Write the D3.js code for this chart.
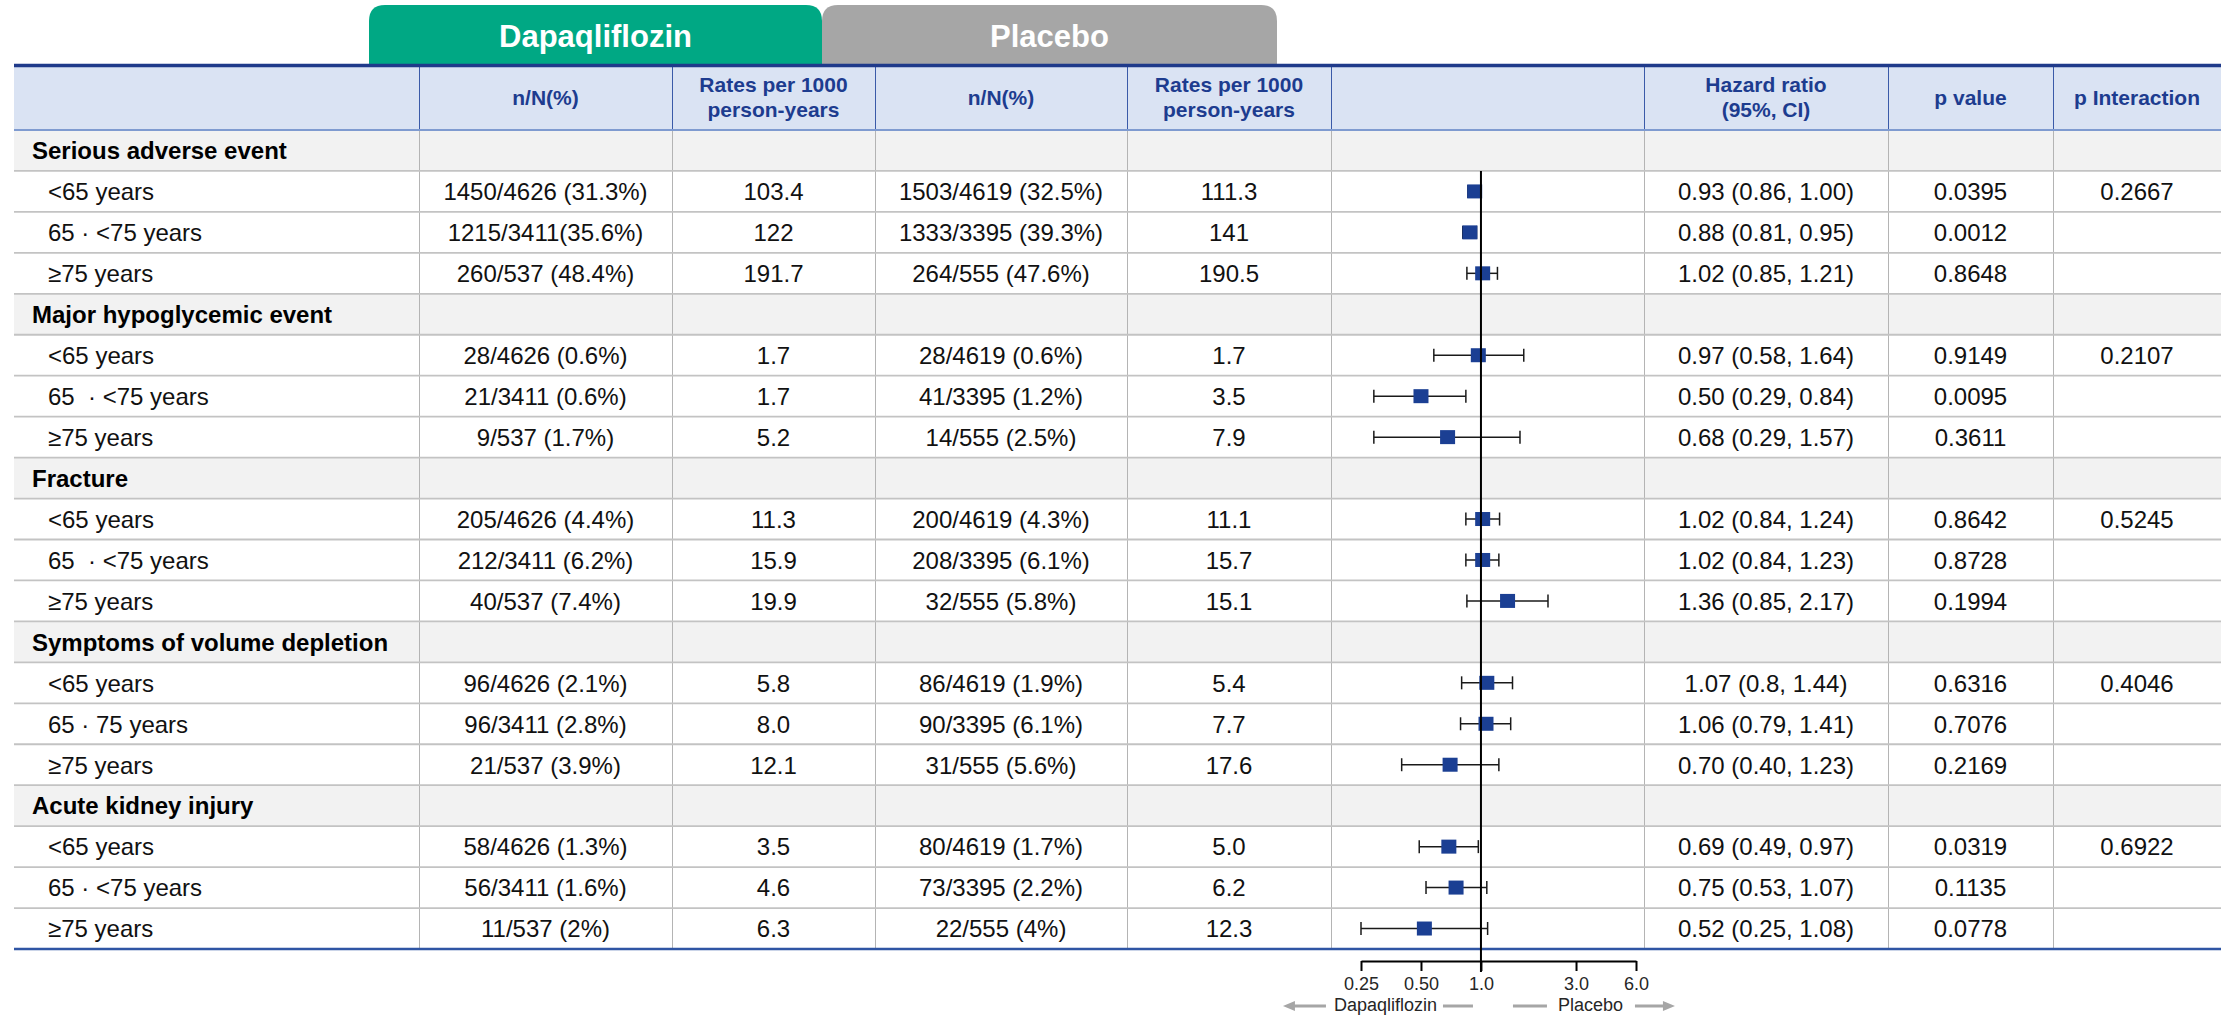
<!DOCTYPE html>
<html>
<head>
<meta charset="utf-8">
<script src="https://cdn.jsdelivr.net/npm/d3@7"></script>
<style>
  html, body { margin: 0; padding: 0; background: #ffffff; }
  svg { display: block; font-family: "Liberation Sans", Arial, Helvetica, sans-serif; }
  text { white-space: pre; }
</style>
</head>
<body>
<svg id="chart" width="2228" height="1016"></svg>
<script>
// ---- Data -------------------------------------------------------------
const armLabels = ["Dapaqliflozin", "Placebo"];

const columnHeaders = [
  [],
  ["n/N(%)"],
  ["Rates per 1000", "person-years"],
  ["n/N(%)"],
  ["Rates per 1000", "person-years"],
  [],
  ["Hazard ratio", "(95%, CI)"],
  ["p value"],
  ["p Interaction"]
];

const eventGroups = [
  "Serious adverse event",
  "Major hypoglycemic event",
  "Fracture",
  "Symptoms of volume depletion",
  "Acute kidney injury"
];

const ageLabels = [
  "<65 years", "65 · <75 years", "≥75 years",
  "<65 years", "65  · <75 years", "≥75 years",
  "<65 years", "65  · <75 years", "≥75 years",
  "<65 years", "65 · 75 years", "≥75 years",
  "<65 years", "65 · <75 years", "≥75 years"
];

const dapaEvents = [
  "1450/4626 (31.3%)", "1215/3411(35.6%)", "260/537 (48.4%)",
  "28/4626 (0.6%)", "21/3411 (0.6%)", "9/537 (1.7%)",
  "205/4626 (4.4%)", "212/3411 (6.2%)", "40/537 (7.4%)",
  "96/4626 (2.1%)", "96/3411 (2.8%)", "21/537 (3.9%)",
  "58/4626 (1.3%)", "56/3411 (1.6%)", "11/537 (2%)"
];
const dapaRates = [
  "103.4", "122", "191.7",
  "1.7", "1.7", "5.2",
  "11.3", "15.9", "19.9",
  "5.8", "8.0", "12.1",
  "3.5", "4.6", "6.3"
];
const placEvents = [
  "1503/4619 (32.5%)", "1333/3395 (39.3%)", "264/555 (47.6%)",
  "28/4619 (0.6%)", "41/3395 (1.2%)", "14/555 (2.5%)",
  "200/4619 (4.3%)", "208/3395 (6.1%)", "32/555 (5.8%)",
  "86/4619 (1.9%)", "90/3395 (6.1%)", "31/555 (5.6%)",
  "80/4619 (1.7%)", "73/3395 (2.2%)", "22/555 (4%)"
];
const placRates = [
  "111.3", "141", "190.5",
  "1.7", "3.5", "7.9",
  "11.1", "15.7", "15.1",
  "5.4", "7.7", "17.6",
  "5.0", "6.2", "12.3"
];

const hrEstimate = ["0.93", "0.88", "1.02", "0.97", "0.50", "0.68", "1.02", "1.02", "1.36", "1.07", "1.06", "0.70", "0.69", "0.75", "0.52"];
const hrLower    = ["0.86", "0.81", "0.85", "0.58", "0.29", "0.29", "0.84", "0.84", "0.85", "0.8",  "0.79", "0.40", "0.49", "0.53", "0.25"];
const hrUpper    = ["1.00", "0.95", "1.21", "1.64", "0.84", "1.57", "1.24", "1.23", "2.17", "1.44", "1.41", "1.23", "0.97", "1.07", "1.08"];

const pValues = [
  "0.0395", "0.0012", "0.8648",
  "0.9149", "0.0095", "0.3611",
  "0.8642", "0.8728", "0.1994",
  "0.6316", "0.7076", "0.2169",
  "0.0319", "0.1135", "0.0778"
];
const pInteraction = ["0.2667", "0.2107", "0.5245", "0.4046", "0.6922"];

const tickValues = [0.25, 0.5, 1, 3, 6];
const tickLabels = ["0.25", "0.50", "1.0", "3.0", "6.0"];

// ---- Layout -----------------------------------------------------------
const svg = d3.select("#chart");
const tableLeft = 14, tableRight = 2221;
const colEdges = [14, 419, 672, 875, 1127, 1331, 1644, 1888, 2053, 2221];
const headTop = 65, headBottom = 130;
const rowH = 40.95;
const groupSize = 3;

const textColor = "#111111";
const headColor = "#1d3c8f";

// Table rows: each event group gets a header row, then its age subgroups
const rows = [];
eventGroups.forEach((g, gi) => {
  rows.push({ type: "group", label: g });
  for (let k = 0; k < groupSize; k++) {
    const i = gi * groupSize + k;
    rows.push({
      type: "data", i, label: ageLabels[i],
      cells: [dapaEvents[i], dapaRates[i], placEvents[i], placRates[i]],
      est: hrEstimate[i], lo: hrLower[i], hi: hrUpper[i],
      p: pValues[i], pInt: k === 0 ? pInteraction[gi] : ""
    });
  }
});
const rowTop = r => headBottom + r * rowH;
const tableBottom = rowTop(rows.length);

// ---- Arm tabs ----------------------------------------------------------
function tabPath(x0, x1, y0, y1, r) {
  return `M${x0},${y1} V${y0 + r} Q${x0},${y0} ${x0 + r},${y0} H${x1 - r} Q${x1},${y0} ${x1},${y0 + r} V${y1} Z`;
}
const tabs = [
  { x0: 822, x1: 1277, fill: "#a6a6a6", label: armLabels[1] },
  { x0: 369, x1: 822, fill: "#00a884", label: armLabels[0] }
];
const tabG = svg.append("g");
tabG.selectAll("path").data(tabs).join("path")
  .attr("d", d => tabPath(d.x0, d.x1, 5, headTop, 16))
  .attr("fill", d => d.fill);
tabG.selectAll("text").data(tabs).join("text")
  .attr("x", d => (d.x0 + d.x1) / 2)
  .attr("y", 47)
  .attr("text-anchor", "middle")
  .attr("font-size", 31)
  .attr("font-weight", "bold")
  .attr("fill", "#ffffff")
  .text(d => d.label);

// ---- Header row ----------------------------------------------------------
svg.append("rect")
  .attr("x", tableLeft).attr("y", headTop)
  .attr("width", tableRight - tableLeft).attr("height", headBottom - headTop)
  .attr("fill", "#dae3f3");

const headG = svg.append("g");
columnHeaders.forEach((lines, c) => {
  const cx = (colEdges[c] + colEdges[c + 1]) / 2;
  const ys = lines.length === 2 ? [92, 117] : [105];
  lines.forEach((t, j) => {
    headG.append("text")
      .attr("x", cx).attr("y", ys[j])
      .attr("text-anchor", "middle")
      .attr("font-size", 21)
      .attr("font-weight", "bold")
      .attr("fill", headColor)
      .text(t);
  });
});
headG.selectAll("line").data(colEdges.slice(1, -1)).join("line")
  .attr("x1", d => d + 0.5).attr("x2", d => d + 0.5)
  .attr("y1", headTop).attr("y2", headBottom)
  .attr("stroke", "#3a5aa8").attr("stroke-width", 1);

// ---- Body rows -----------------------------------------------------------
const bodyG = svg.append("g");
bodyG.selectAll("rect.grp").data(rows.map((r, k) => ({ r, k })).filter(d => d.r.type === "group"))
  .join("rect")
  .attr("x", tableLeft).attr("y", d => rowTop(d.k))
  .attr("width", tableRight - tableLeft).attr("height", rowH)
  .attr("fill", "#f2f2f2");

// vertical cell borders
bodyG.selectAll("line.v").data(colEdges.slice(1, -1)).join("line")
  .attr("x1", d => d + 0.5).attr("x2", d => d + 0.5)
  .attr("y1", headBottom).attr("y2", tableBottom)
  .attr("stroke", "#b4b4b4").attr("stroke-width", 1);

// horizontal row borders
bodyG.selectAll("line.h").data(d3.range(1, rows.length)).join("line")
  .attr("x1", tableLeft).attr("x2", tableRight)
  .attr("y1", d => rowTop(d)).attr("y2", d => rowTop(d))
  .attr("stroke", "#c3c3c3").attr("stroke-width", 1.8);

// header and table rules
svg.append("line").attr("x1", tableLeft).attr("x2", tableRight)
  .attr("y1", headBottom).attr("y2", headBottom)
  .attr("stroke", "#7f9bd0").attr("stroke-width", 2);
svg.append("line").attr("x1", tableLeft).attr("x2", tableRight)
  .attr("y1", headTop + 0.5).attr("y2", headTop + 0.5)
  .attr("stroke", "#1f3a8a").attr("stroke-width", 3.5);
svg.append("line").attr("x1", tableLeft).attr("x2", tableRight)
  .attr("y1", tableBottom).attr("y2", tableBottom)
  .attr("stroke", "#2f55a4").attr("stroke-width", 2.6);

// row texts
const textG = svg.append("g").attr("font-size", 24).attr("fill", textColor);
rows.forEach((r, k) => {
  const base = rowTop(k) + rowH / 2 + 8.8;
  if (r.type === "group") {
    textG.append("text").attr("x", 32).attr("y", base)
      .attr("font-weight", "bold").attr("fill", "#000").text(r.label);
    return;
  }
  textG.append("text").attr("x", 48).attr("y", base).text(r.label);
  const centred = [
    [1, r.cells[0]], [2, r.cells[1]], [3, r.cells[2]], [4, r.cells[3]],
    [6, `${r.est} (${r.lo}, ${r.hi})`], [7, r.p], [8, r.pInt]
  ];
  centred.forEach(([c, t]) => {
    if (!t) return;
    textG.append("text")
      .attr("x", (colEdges[c] + colEdges[c + 1]) / 2)
      .attr("y", base)
      .attr("text-anchor", "middle")
      .text(t);
  });
});

// ---- Forest plot -----------------------------------------------------------
const x = d3.scaleLog().domain([0.25, 6]).range([1361, 1636]);
const dataRows = rows.map((r, k) => ({ ...r, k })).filter(d => d.type === "data");
const cy = d => rowTop(d.k) + rowH / 2;

const forestG = svg.append("g");
forestG.selectAll("line.ci").data(dataRows).join("line")
  .attr("x1", d => x(+d.lo)).attr("x2", d => x(+d.hi))
  .attr("y1", cy).attr("y2", cy)
  .attr("stroke", "#1a1a1a").attr("stroke-width", 1.5);
["lo", "hi"].forEach(key => {
  forestG.selectAll(`line.cap-${key}`).data(dataRows).join("line")
    .attr("class", `cap-${key}`)
    .attr("x1", d => x(+d[key])).attr("x2", d => x(+d[key]))
    .attr("y1", d => cy(d) - 6.5).attr("y2", d => cy(d) + 6.5)
    .attr("stroke", "#1a1a1a").attr("stroke-width", 1.5);
});
forestG.selectAll("rect.pt").data(dataRows).join("rect")
  .attr("x", d => x(+d.est) - 7.5).attr("y", d => cy(d) - 7)
  .attr("width", 15).attr("height", 14)
  .attr("fill", "#1b3f93");

// line of no effect
forestG.append("line")
  .attr("x1", x(1)).attr("x2", x(1))
  .attr("y1", rowTop(1)).attr("y2", 972)
  .attr("stroke", "#000").attr("stroke-width", 2);

// axis
const axisY = 961;
const axisG = svg.append("g").attr("transform", `translate(0,${axisY})`)
  .call(d3.axisBottom(x).tickValues(tickValues)
    .tickFormat((d, i) => tickLabels[i]).tickSize(10).tickSizeOuter(0));
axisG.select(".domain").attr("stroke", "#000").attr("stroke-width", 2);
axisG.selectAll(".tick line").attr("stroke", "#000").attr("stroke-width", 2);
axisG.selectAll(".tick text")
  .attr("y", 16)
  .attr("font-size", 18)
  .attr("font-family", "\"Liberation Sans\", Arial, sans-serif")
  .attr("fill", "#262626");

// favours arrows
const arrowY = 1006, arrowCol = "#a6a6a6";
const x1 = x(1);
const arrowG = svg.append("g");
arrowG.append("text").attr("x", x1 - 44).attr("y", 1011)
  .attr("text-anchor", "end").attr("font-size", 18).attr("fill", "#262626")
  .text(armLabels[0]);
arrowG.append("text").attr("x", x1 + 77).attr("y", 1011)
  .attr("text-anchor", "start").attr("font-size", 18).attr("fill", "#262626")
  .text(armLabels[1]);
const segs = [
  [x1 - 190, x1 - 155], [x1 - 38, x1 - 8],
  [x1 + 32, x1 + 66], [x1 + 154, x1 + 186]
];
arrowG.selectAll("line").data(segs).join("line")
  .attr("x1", d => d[0]).attr("x2", d => d[1])
  .attr("y1", arrowY).attr("y2", arrowY)
  .attr("stroke", arrowCol).attr("stroke-width", 3);
arrowG.append("path")
  .attr("d", `M${x1 - 198},${arrowY} L${x1 - 186},${arrowY - 5} L${x1 - 186},${arrowY + 5} Z`)
  .attr("fill", arrowCol);
arrowG.append("path")
  .attr("d", `M${x1 + 194},${arrowY} L${x1 + 182},${arrowY - 5} L${x1 + 182},${arrowY + 5} Z`)
  .attr("fill", arrowCol);
</script>
</body>
</html>
